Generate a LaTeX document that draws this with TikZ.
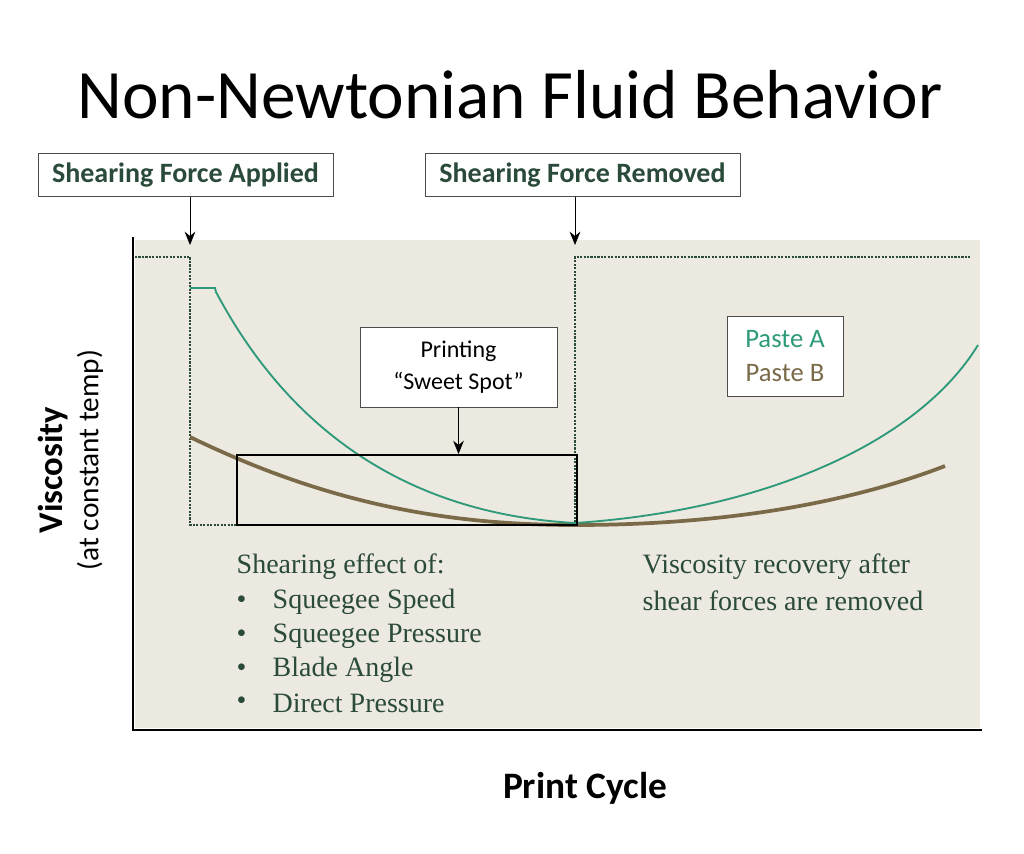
\documentclass[tikz,border=0pt]{standalone}
\usetikzlibrary{arrows.meta}
\usepackage{fontspec}
\setmainfont{Carlito}
\newfontfamily\serifx{Liberation Serif}
\definecolor{bg}{HTML}{ECE9E0}
\definecolor{teal}{HTML}{2E9A7A}
\definecolor{brn}{HTML}{7A6A48}
\definecolor{dg}{HTML}{2A4A3A}
\begin{document}
\begin{tikzpicture}[x=0.75pt,y=-0.75pt,
 lbl/.style={draw=black!70,fill=white,font=\fontsize{21}{23}\selectfont\bfseries,text=dg,inner sep=0pt,minimum height=32pt},
 ser/.style={font=\serifx\fontsize{21}{23}\selectfont,text=dg,anchor=west},
 arr/.style={-{Stealth[length=10pt,width=8pt]},black,semithick}]
\useasboundingbox (0,0) rectangle (1024,853);
\fill[white] (0,0) rectangle (1024,853);
\node (title) at (510,95) {\fontsize{52}{58}\selectfont Non-Newtonian Fluid Behavior};
\fill[bg] (135,240) rectangle (980,728);
\draw[line width=2pt] (133,237) -- (133,730) -- (982,730);
\node[lbl,minimum width=221pt] (fa) at (185.5,175) {Shearing Force Applied};
\node[lbl,minimum width=236pt] (fr) at (582.5,175) {Shearing Force Removed};
\coordinate (fa1) at (190,245); \coordinate (fr1) at (575,245);
\draw[arr] (fa.south -| fa1) -- (fa1);
\draw[arr] (fr.south -| fr1) -- (fr1);
\draw[dg,densely dotted,line width=1.6pt] (135,257) -- (190,257) -- (190,525) -- (575,525) -- (575,257) -- (970,257);
\draw[brn,line width=2.8pt] (190,437) .. controls (330,505) and (450,525) .. (575,525) .. controls (750,525) and (870,495) .. (945,466);
\draw[teal,line width=1.4pt] (190,288) -- (215,288) -- (216,292) .. controls (300,450) and (430,515) .. (575,523) .. controls (770,510) and (920,440) .. (978,345);
\node[draw=black,line width=1.4pt,minimum width=255pt,minimum height=52.5pt,inner sep=0pt] (ss) at (407,490) {};
\node[draw=black!70,fill=white,minimum width=148pt,minimum height=60pt,align=center,font=\fontsize{18}{24}\selectfont] (pr) at (458.5,367) {Printing\\“Sweet Spot”};
\draw[arr] (pr.south) -- (pr.south |- ss.north);
\node[draw=black!70,fill=white,minimum width=87pt,minimum height=60pt,align=center,font=\fontsize{20}{25}\selectfont] (leg) at (785,356) {\textcolor{teal}{Paste A}\\\textcolor{brn}{Paste B}};
\node[ser] (s0) at (232,567) {Shearing effect of:};
\foreach \t/\y [count=\i] in {Squeegee Speed/602,Squeegee Pressure/636,Blade Angle/670,Direct Pressure/703}{
 \node[ser] (b\i) at (232,\y) {•};
 \node[ser] (t\i) at (268,\y) {\t};}
\node[ser] (r1) at (638,567) {Viscosity recovery after};
\node[ser] (r2) at (638,601) {shear forces are removed};
\node[rotate=90,font=\fontsize{26}{28}\selectfont\bfseries] (yl) at (53,470) {Viscosity};
\node[rotate=90,font=\fontsize{22}{24}\selectfont] (yl2) at (90,460) {(at constant temp)};
\node[font=\fontsize{28}{30}\selectfont\bfseries] (xl) at (585,788) {Print Cycle};
\end{tikzpicture}
\end{document}
